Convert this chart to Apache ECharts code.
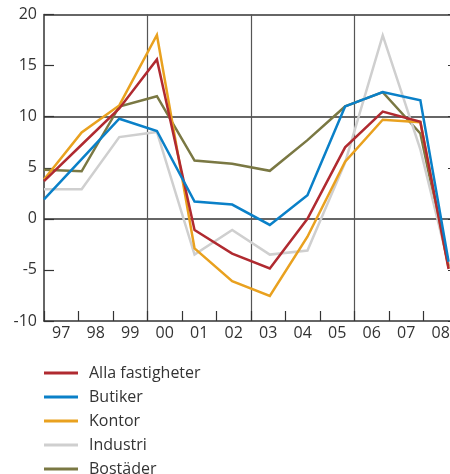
<!DOCTYPE html>
<html>
<head>
<meta charset="utf-8">
<script src="https://cdn.jsdelivr.net/npm/echarts@6/dist/echarts.min.js"></script>
<style>
  html, body { margin: 0; padding: 0; background: #fff; }
  #chart { width: 450px; height: 474px; }
</style>
</head>
<body>
<div id="chart"></div>
<script>
// Year labels along the bottom axis
const yearLabels = ['97', '98', '99', '00', '01', '02', '03', '04', '05', '06', '07', '08'];
// Years that open a new block (vertical separator drawn before them)
const blockStarts = ['00', '03', '06'];

// Observation index per reading; 2008 covers three quarters only
const obsIndex = [0, 1, 2, 3, 4, 5, 6, 7, 8, 9, 10, 10.75];

// Annual change, per cent
const allaFastigheter = [3.7, 7.25, 10.8, 15.6, -1.1, -3.4, -4.85, 0.0, 7.0, 10.5, 9.5, -4.9];
const butiker = [1.9, 5.85, 9.8, 8.6, 1.7, 1.4, -0.6, 2.3, 11.0, 12.4, 11.6, -4.2];
const kontor = [3.85, 8.45, 11.1, 18.0, -2.9, -6.1, -7.55, -1.75, 5.6, 9.7, 9.45, -4.8];
const industri = [2.9, 2.9, 8.0, 8.5, -3.5, -1.1, -3.5, -3.1, 5.5, 17.95, 6.8, -4.5];
const bostader = [4.8, 4.65, 11.0, 12.0, 5.7, 5.4, 4.7, 7.7, 11.0, 12.4, 8.35, -4.6];

const yTicks = { min: -10, max: 20, step: 5 };

const FONT = '"Open Sans", "Noto Sans", sans-serif';
const INK = '#333333';

function pairs(values) {
  return values.map((v, i) => [obsIndex[i], v]);
}

// Drawn bottom to top; legend keeps its own order
const seriesDefs = [
  { name: 'Bostäder', color: '#7a7843', data: bostader },
  { name: 'Industri', color: '#cfcfcf', data: industri },
  { name: 'Kontor', color: '#e9a11f', data: kontor },
  { name: 'Alla fastigheter', color: '#b02a30', data: allaFastigheter },
  { name: 'Butiker', color: '#0a80c8', data: butiker }
];

const chart = echarts.init(document.getElementById('chart'), null, { renderer: 'canvas' });

chart.setOption({
  animation: false,
  backgroundColor: '#ffffff',
  textStyle: { fontFamily: FONT },
  grid: {
    left: 44, top: 14.5, width: 414, bottom: 153,
    containLabel: false, outerBoundsMode: 'none'
  },
  legend: {
    orient: 'vertical',
    left: 44,
    top: 363,
    height: 140,
    padding: 0,
    icon: 'rect',
    itemWidth: 34,
    itemHeight: 3,
    itemGap: 4,
    data: ['Alla fastigheter', 'Butiker', 'Kontor', 'Industri', 'Bostäder'],
    textStyle: {
      fontFamily: FONT,
      fontSize: 16,
      color: INK,
      lineHeight: 20,
      padding: [0, 0, 0, 6]
    }
  },
  xAxis: [
    {
      type: 'category',
      data: yearLabels,
      boundaryGap: true,
      position: 'bottom',
      axisLine: { show: true, onZero: false, lineStyle: { color: INK, width: 1.5 } },
      axisTick: { show: true, inside: true, length: 10, interval: 0, lineStyle: { color: INK, width: 1.2 } },
      axisLabel: { fontFamily: FONT, fontSize: 16, color: INK, margin: 4, interval: 0 },
      splitLine: {
        show: true,
        interval: (idx, val) => blockStarts.includes(val),
        lineStyle: { color: '#555555', width: 1.2 }
      }
    },
    {
      type: 'value',
      min: 0,
      max: 11,
      show: false,
      position: 'top'
    }
  ],
  yAxis: [
    {
      type: 'value',
      position: 'left',
      min: yTicks.min,
      max: yTicks.max,
      interval: yTicks.step,
      axisLine: { show: true, lineStyle: { color: INK, width: 1.5 } },
      axisTick: { show: true, inside: true, length: 10, lineStyle: { color: INK, width: 1.2 } },
      axisLabel: { fontFamily: FONT, fontSize: 16, color: INK, margin: 7 },
      splitLine: { show: false }
    },
    {
      type: 'value',
      position: 'right',
      min: yTicks.min,
      max: yTicks.max,
      interval: yTicks.step,
      axisLine: { show: true, lineStyle: { color: INK, width: 1.5 } },
      axisTick: { show: true, inside: true, length: 10, lineStyle: { color: INK, width: 1.2 } },
      axisLabel: { show: false },
      splitLine: { show: false }
    },
    {
      // reference lines at 0, 10 and the top frame
      type: 'value',
      position: 'left',
      min: yTicks.min,
      max: yTicks.max,
      interval: yTicks.step * 2,
      axisLine: { show: false },
      axisTick: { show: false },
      axisLabel: { show: false },
      splitLine: { show: true, showMinLine: false, lineStyle: { color: INK, width: 1.5 } }
    }
  ],
  series: seriesDefs.map(s => ({
    name: s.name,
    type: 'line',
    xAxisIndex: 1,
    yAxisIndex: 0,
    data: pairs(s.data),
    symbol: 'none',
    clip: true,
    color: s.color,
    lineStyle: { color: s.color, width: 2.5, join: 'miter' },
    emphasis: { disabled: true }
  }))
});
</script>
</body>
</html>
